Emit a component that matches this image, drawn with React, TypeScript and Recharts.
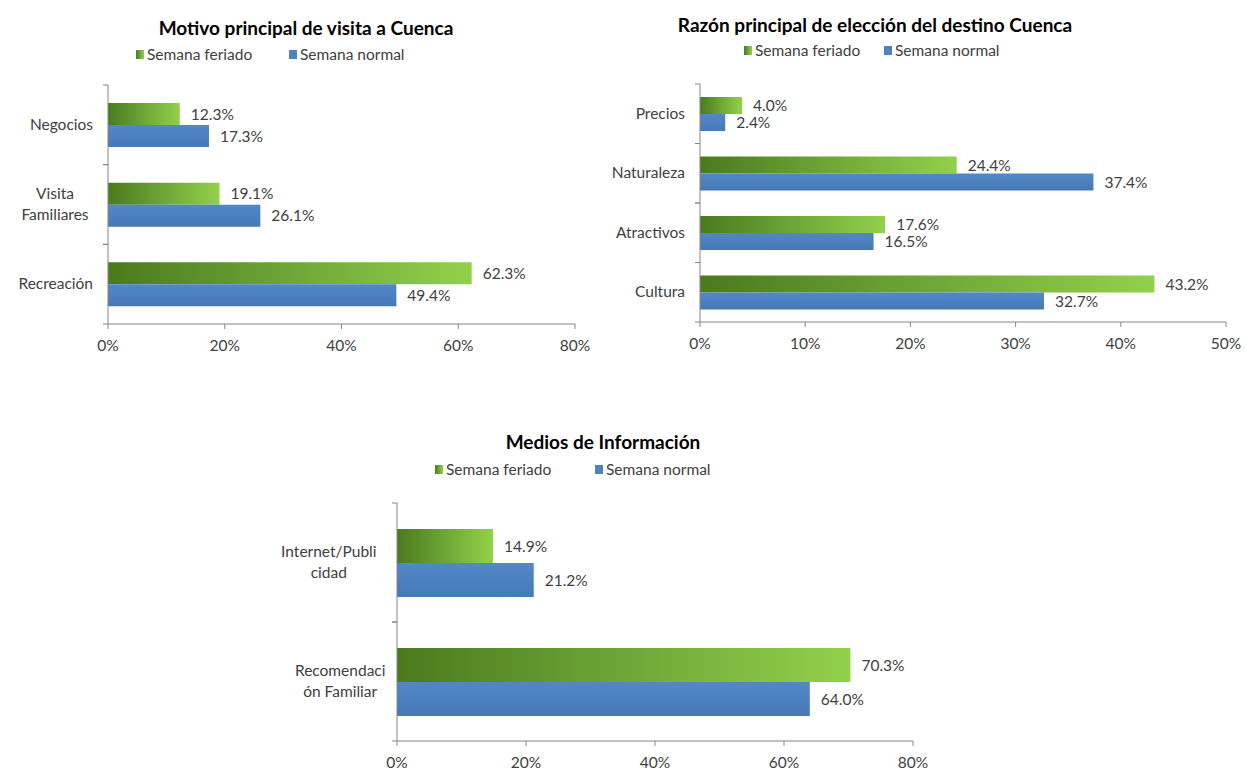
import React from 'react';
import { BarChart, Bar, XAxis, YAxis, LabelList } from 'recharts';

const FONT = 'Lato, "Open Sans", "Liberation Sans", sans-serif';

// ---- Data ----
const seriesNames = ['Semana feriado', 'Semana normal'];

const motivoTitle = 'Motivo principal de visita a Cuenca';
const motivoCategories = ['Negocios', 'Visita\nFamiliares', 'Recreación'];
const motivoFeriado = [12.3, 19.1, 62.3];
const motivoNormal = [17.3, 26.1, 49.4];
const motivoTicks = [0, 20, 40, 60, 80];

const razonTitle = 'Razón principal de elección del destino Cuenca';
const razonCategories = ['Precios', 'Naturaleza', 'Atractivos', 'Cultura'];
const razonFeriado = [4.0, 24.4, 17.6, 43.2];
const razonNormal = [2.4, 37.4, 16.5, 32.7];
const razonTicks = [0, 10, 20, 30, 40, 50];

const mediosTitle = 'Medios de Información';
const mediosCategories = ['Internet/Publi\ncidad', 'Recomendaci\nón Familiar'];
const mediosFeriado = [14.9, 70.3];
const mediosNormal = [21.2, 64.0];
const mediosTicks = [0, 20, 40, 60, 80];

const AXIS = '#868686';
const TEXT = '#404040';
const FS = 15.5;

const CategoryTick = (props: any) => {
  const { y, payload, band, axisX, gap } = props;
  const lines = String(payload.value).split('\n');
  const lh = 21;
  const charW = 7.6;
  const maxLen = Math.max(...lines.map((l: string) => l.length));
  const multi = lines.length > 1;
  const cx = multi ? axisX - gap - (maxLen * charW) / 2 : axisX - gap;
  const anchor = multi ? 'middle' : 'end';
  return (
    <g>
      <line x1={axisX - 5} x2={axisX} y1={y - band / 2} y2={y - band / 2} stroke={AXIS} />
      <line x1={axisX - 5} x2={axisX} y1={y + band / 2} y2={y + band / 2} stroke={AXIS} />
      <text x={cx} y={y} textAnchor={anchor} fill={TEXT} fontSize={FS} fontFamily={FONT}>
        {lines.map((l: string, i: number) => (
          <tspan key={i} x={cx} dy={i === 0 ? -((lines.length - 1) * lh) / 2 + 5 : lh}>
            {l}
          </tspan>
        ))}
      </text>
    </g>
  );
};

type ChartProps = {
  id: string;
  title: string;
  categories: string[];
  feriado: number[];
  normal: number[];
  ticks: number[];
  left: number;
  top: number;
  width: number;
  height: number;
  margin: { top: number; right: number; bottom: number; left: number };
  yAxisWidth: number;
  barSize: number;
  titleX: number;
  titleY: number;
  legendY: number;
  legendX: [number, number];
};

const Chart = (p: ChartProps) => {
  const data = p.categories.map((c, i) => ({ name: c, feriado: p.feriado[i], normal: p.normal[i] }));
  const axisX = p.margin.left + p.yAxisWidth;
  const xAxisH = 30;
  const plotH = p.height - p.margin.top - p.margin.bottom - xAxisH;
  const band = plotH / p.categories.length;
  const fmt = (v: any) => `${Number(v).toFixed(1)}%`;
  return (
    <div style={{ position: 'absolute', left: p.left, top: p.top, width: p.width, height: p.height }}>
      <div
        style={{
          position: 'absolute',
          left: p.titleX,
          top: p.titleY - 12,
          transform: 'translateX(-50%)',
          whiteSpace: 'nowrap',
          fontFamily: FONT,
          fontWeight: 700,
          fontSize: 19,
          lineHeight: '24px',
          color: '#000',
          zIndex: 2,
        }}
      >
        {p.title}
      </div>
      {seriesNames.map((s, i) => (
        <div
          key={s}
          style={{
            position: 'absolute',
            left: p.legendX[i],
            top: p.legendY - 10,
            height: 20,
            display: 'flex',
            alignItems: 'center',
            whiteSpace: 'nowrap',
            fontFamily: FONT,
            fontSize: 15.5,
            color: TEXT,
            zIndex: 2,
          }}
        >
          <span
            style={{
              display: 'inline-block',
              width: 8,
              height: 9,
              marginRight: 3,
              background: i === 0 ? 'linear-gradient(to right, #4c7a1e, #92d050)' : '#4f81bd',
            }}
          />
          {s}
        </div>
      ))}
      <BarChart
        width={p.width}
        height={p.height}
        data={data}
        layout="vertical"
        margin={p.margin}
        barGap={0}
        style={{ position: 'absolute', left: 0, top: 0 }}
      >
        <defs>
          <linearGradient id={`${p.id}-green`} x1="0" y1="0" x2="1" y2="0">
            <stop offset="0%" stopColor="#4b7a1d" />
            <stop offset="50%" stopColor="#6ea637" />
            <stop offset="100%" stopColor="#92d14a" />
          </linearGradient>
          <linearGradient id={`${p.id}-blue`} x1="0" y1="0" x2="0" y2="1">
            <stop offset="0%" stopColor="#5188c8" />
            <stop offset="100%" stopColor="#4878b6" />
          </linearGradient>
        </defs>
        <XAxis
          type="number"
          domain={[p.ticks[0], p.ticks[p.ticks.length - 1]]}
          ticks={p.ticks}
          tickFormatter={(v: number) => `${v}%`}
          stroke={AXIS}
          tick={{ fill: TEXT, fontSize: FS, fontFamily: FONT }}
          tickSize={5}
          tickMargin={11}
          height={xAxisH}
          allowDataOverflow
        />
        <YAxis
          type="category"
          dataKey="name"
          width={p.yAxisWidth}
          stroke={AXIS}
          tickLine={false}
          interval={0}
          tick={<CategoryTick band={band} axisX={axisX} gap={15} />}
        />
        <Bar dataKey="feriado" name={seriesNames[0]} fill={`url(#${p.id}-green)`} barSize={p.barSize} isAnimationActive={false}>
          <LabelList dataKey="feriado" position="right" offset={11} formatter={fmt} fill={TEXT} fontSize={FS} fontFamily={FONT} />
        </Bar>
        <Bar dataKey="normal" name={seriesNames[1]} fill={`url(#${p.id}-blue)`} barSize={p.barSize} isAnimationActive={false}>
          <LabelList dataKey="normal" position="right" offset={11} formatter={fmt} fill={TEXT} fontSize={FS} fontFamily={FONT} />
        </Bar>
      </BarChart>
    </div>
  );
};

export default function App() {
  return (
    <div style={{ position: 'absolute', left: 0, top: 0, width: 1246, height: 771, background: '#fff', overflow: 'hidden' }}>
      <Chart
        id="motivo"
        title={motivoTitle}
        categories={motivoCategories}
        feriado={motivoFeriado}
        normal={motivoNormal}
        ticks={motivoTicks}
        left={0}
        top={0}
        width={600}
        height={370}
        margin={{ top: 85, right: 25, bottom: 16, left: 8 }}
        yAxisWidth={100}
        barSize={22}
        titleX={306}
        titleY={28}
        legendY={54}
        legendX={[136, 289]}
      />
      <Chart
        id="razon"
        title={razonTitle}
        categories={razonCategories}
        feriado={razonFeriado}
        normal={razonNormal}
        ticks={razonTicks}
        left={600}
        top={0}
        width={646}
        height={370}
        margin={{ top: 84, right: 20, bottom: 18, left: 8 }}
        yAxisWidth={92}
        barSize={17}
        titleX={275}
        titleY={25}
        legendY={50}
        legendX={[144, 284]}
      />
      <Chart
        id="medios"
        title={mediosTitle}
        categories={mediosCategories}
        feriado={mediosFeriado}
        normal={mediosNormal}
        ticks={mediosTicks}
        left={250}
        top={400}
        width={700}
        height={371}
        margin={{ top: 103, right: 37, bottom: 0, left: 8 }}
        yAxisWidth={139}
        barSize={34}
        titleX={353}
        titleY={42}
        legendY={69}
        legendX={[185, 345]}
      />
    </div>
  );
}
